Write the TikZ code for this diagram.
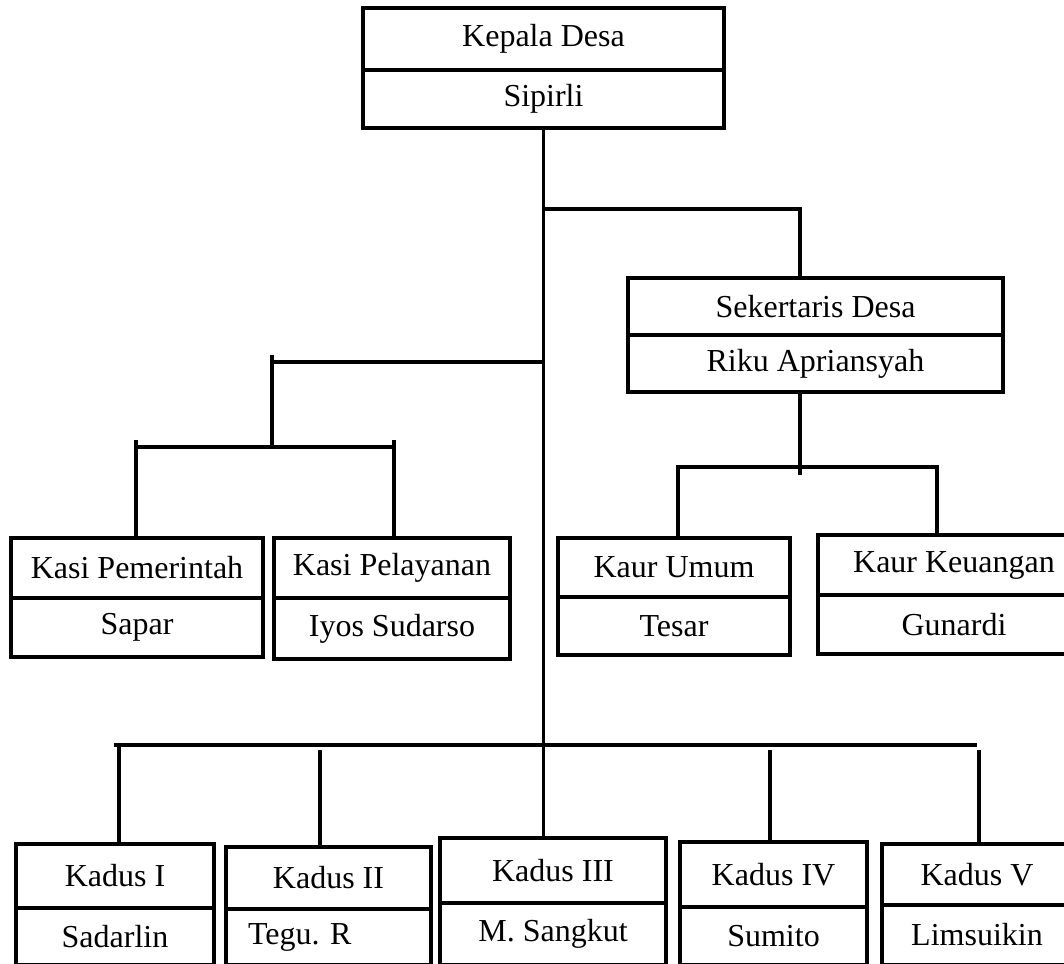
\documentclass[tikz,border=0pt]{standalone}
\usepackage{fontspec}
\setmainfont{Liberation Serif}
\usetikzlibrary{positioning}

\tikzset{
  jabatan/.style={draw, line width=2pt, inner sep=0pt, outer sep=0pt, font=\fontsize{16}{19}\selectfont},
  nama/.style={jabatan},
  garis/.style={line width=1.9pt},
}

\begin{document}
\begin{tikzpicture}[x=0.5pt, y=-0.5pt]
            \useasboundingbox (0,0) rectangle (1064,963);
            \clip (0,0) rectangle (1064,963);

            \node (kades) at (543.5, 39) [jabatan, minimum width=180.5pt, minimum height=31pt] {Kepala Desa};
            \node (sipirli) [nama, below=0pt of kades, minimum width=180.5pt, minimum height=29pt] {Sipirli};

            \node (sekdes) at (815.5, 306.5) [jabatan, minimum width=187.5pt, minimum height=28.5pt] {Sekertaris Desa};
            \node (riku) [nama, below=0pt of sekdes, minimum width=187.5pt, minimum height=28.5pt] {Riku Apriansyah};

            \node (kasipem) at (137, 568) [jabatan, minimum width=126pt, minimum height=30pt] {Kasi Pemerintah};
            \node (sapar) [nama, below=0pt of kasipem, minimum width=126pt, minimum height=29.5pt] {Sapar};
            \node (kasipel) at (392, 568) [jabatan, minimum width=118pt, minimum height=30pt] {Kasi Pelayanan};
            \node (iyos) [nama, below=0pt of kasipel, minimum width=118pt, minimum height=30.5pt] {Iyos Sudarso};

            \node (kaurumum) at (674, 567.5) [jabatan, minimum width=116pt, minimum height=29.5pt] {Kaur Umum};
            \node (tesar) [nama, below=0pt of kaurumum, minimum width=116pt, minimum height=29pt] {Tesar};
            \node (kaurkeu) at (954, 565) [jabatan, minimum width=136pt, minimum height=30pt] {Kaur Keuangan};
            \node (gunardi) [nama, below=0pt of kaurkeu, minimum width=136pt, minimum height=29.5pt] {Gunardi};

            \node (kadus1) at (115, 876) [jabatan, minimum width=99pt, minimum height=32pt] {Kadus I};
            \node (sadarlin) [nama, below=0pt of kadus1, minimum width=99pt, minimum height=28.5pt] {Sadarlin};
            \node (kadus2) at (328.5, 878) [jabatan, minimum width=102.5pt, minimum height=31pt] {Kadus II};
            \node (tegu) [nama, below=0pt of kadus2, minimum height=28pt, inner xsep=11pt, text width=80.5pt, align=left] {Tegu.\ R};
            \node (kadus3) at (553, 870.5) [jabatan, minimum width=113pt, minimum height=32.5pt] {Kadus III};
            \node (sangkut) [nama, below=0pt of kadus3, minimum width=113pt, minimum height=31pt] {M. Sangkut};
            \node (kadus4) at (773.5, 874.5) [jabatan, minimum width=93.5pt, minimum height=32.5pt] {Kadus IV};
            \node (sumito) [nama, below=0pt of kadus4, minimum width=93.5pt, minimum height=29pt] {Sumito};
            \node (kadus5) at (977, 874.5) [jabatan, minimum width=95pt, minimum height=30.5pt] {Kadus V};
            \node (limsuikin) [nama, below=0pt of kadus5, minimum width=95pt, minimum height=30pt] {Limsuikin};

            \coordinate (kanan) at (800, 209);
            \coordinate (kiri) at (272, 362);
            \coordinate (kasiL) at (136, 447);
            \coordinate (kasiR) at (394, 447);
            \coordinate (kaur) at (800, 467);
            \coordinate (kaurL) at (678, 467);
            \coordinate (kaurR) at (937, 467);
            \coordinate (busL) at (114, 745);
            \coordinate (busR) at (977, 745);
            \coordinate (d1) at (119, 745);
            \coordinate (d2) at (320, 750);
            \coordinate (d4) at (770, 750);
            \coordinate (d5) at (979, 750);

            \draw[garis] (sipirli.south) -- (sipirli.south |- kadus3.north);
            \draw[garis] (kanan -| sipirli.south) -- (kanan) -- (kanan |- sekdes.north);

            \draw[garis] (sipirli.south |- kiri) -- (kiri);
            \draw[garis] ([yshift=3.5pt]kiri) -- (kiri |- kasiL);
            \draw[garis] (kasiL) -- (kasiR);
            \draw[garis] ([yshift=3.5pt]kasiL) -- (kasiL |- kasipem.north);
            \draw[garis] ([yshift=3.5pt]kasiR) -- (kasiR |- kasipel.north);

            \draw[garis] (kaur |- riku.south) -- ([yshift=-4pt]kaur);
            \draw[garis] (kaurL |- kaurumum.north) -- (kaurL) -- (kaurR) -- (kaurR |- kaurkeu.north);

            \draw[garis] (busL) -- (busR);
            \draw[garis] (d1) -- (d1 |- kadus1.north);
            \draw[garis] (d2) -- (d2 |- kadus2.north);
            \draw[garis] (d4) -- (d4 |- kadus4.north);
            \draw[garis] (d5) -- (d5 |- kadus5.north);

        \end{tikzpicture}
\end{document}
